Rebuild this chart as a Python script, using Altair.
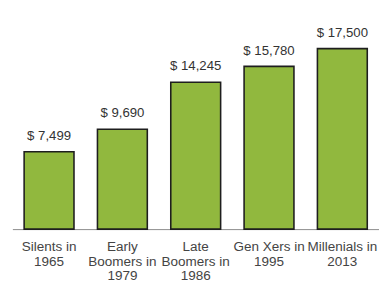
import altair as alt
import pandas as pd

categories = ["Silents in|1965", "Early|Boomers in|1979", "Late|Boomers in|1986",
              "Gen Xers in|1995", "Millenials in|2013"]
values = [7499, 9690, 14245, 15780, 17500]
value_labels = ["$ 7,499", "$ 9,690", "$ 14,245", "$ 15,780", "$ 17,500"]

df = pd.DataFrame({"cat": categories, "val": values, "lab": value_labels})

FONT = "Liberation Sans"

x = alt.X("cat:N", sort=categories, title=None,
          scale=alt.Scale(paddingInner=0.32, paddingOuter=0.16),
          axis=alt.Axis(labelAngle=0, ticks=False, domainColor="#8a8a8a", domainWidth=1,
                        labelExpr="split(datum.value, '|')", labelFont=FONT,
                        labelFontSize=13.8, labelColor="#444444", labelPadding=11,
                        labelLineHeight=15, labelBaseline="top", grid=False))
y = alt.Y("val:Q", scale=alt.Scale(domain=[0, 20000], nice=False), axis=None)

bars = alt.Chart(df).mark_bar(color="#91b83e", stroke="#1e1e1e", strokeWidth=1.6).encode(x=x, y=y)
text = alt.Chart(df).mark_text(font=FONT, fontSize=13.5, color="#333333", dy=-12,
                               baseline="alphabetic").encode(x=x, y=y, text="lab:N")

chart = alt.layer(bars, text).properties(
    width=375, height=211,
    background="white",
    autosize=alt.AutoSizeParams(type="none"),
    padding={"left": 4.5, "top": 12, "right": 0, "bottom": 55},
).configure_view(stroke=None)

chart.save("out.html", embed_options={"renderer": "svg", "actions": False})
